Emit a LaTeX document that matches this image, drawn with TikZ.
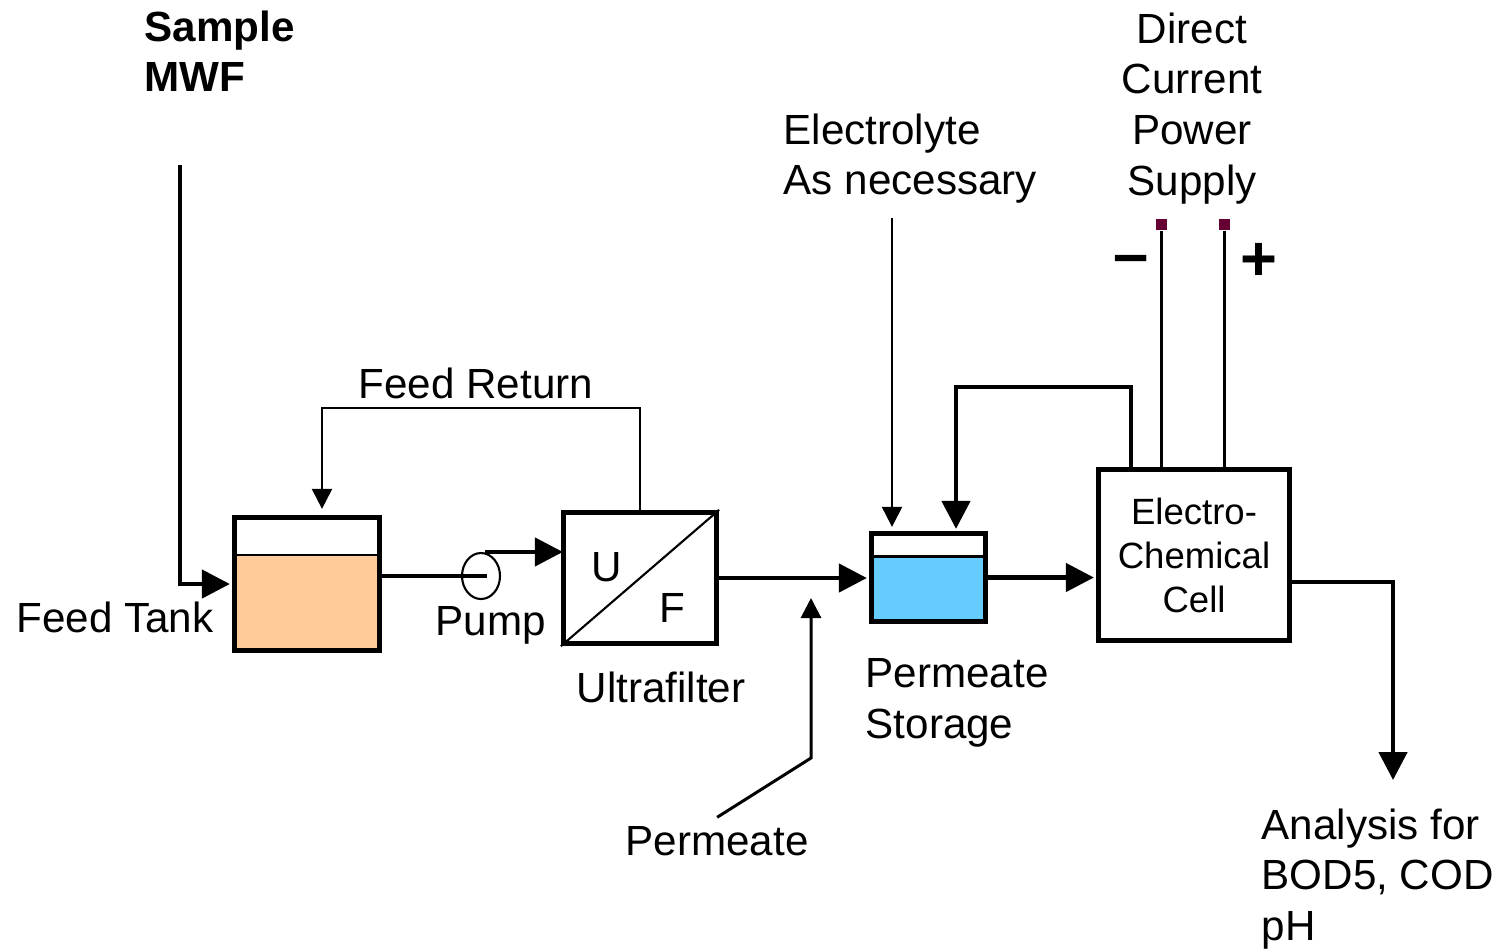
\documentclass[tikz,border=0pt]{standalone}
\usepackage{fontspec}
\setmainfont{Liberation Sans}
\usetikzlibrary{arrows.meta, positioning, shapes.geometric}
\definecolor{mFeed}{HTML}{FFCC99}
\definecolor{mPerm}{HTML}{66CCFF}
\definecolor{mTerm}{HTML}{660033}

\begin{document}
\begin{tikzpicture}[x=0.1mm, y=-0.1mm, inner sep=0pt,
    every node/.style={font=\fontsize{12}{14.4}\selectfont},
    box/.style={draw, line width=1.5pt},
    level/.style 2 args={path picture={
      \fill[#1] ([yshift=-#2]path picture bounding box.north west) rectangle (path picture bounding box.south east);
      \draw[line width=0.6pt] ([yshift=-#2]path picture bounding box.north west) -- ([yshift=-#2]path picture bounding box.north east);}},
    pipe/.style={line width=1.3pt},
    flow/.style={pipe, -{Triangle[length=2.8mm, width=2.8mm]}, shorten >=0.2mm},
    feed/.style={line width=0.6pt, -{Triangle[length=2mm, width=2mm]}},
    lead/.style={line width=0.85pt},
    terminal/.style={fill=mTerm, minimum size=1.1mm}]
  \useasboundingbox (0,0) rectangle (1501,951);

  % units
  \node[box, level={mFeed}{3.75mm}, minimum width=14.5mm, minimum height=13.3mm] (tank) at (307,584) {};
  \node[draw, ellipse, line width=0.6pt, minimum width=3.8mm, minimum height=4.6mm] (pump) at (481,576) {};
  \node[box, minimum width=15.3mm, minimum height=13.1mm] (uf) at (640,578) {};
  \draw[line width=0.6pt] (uf.south west) -- (uf.north east);
  \node (ufU) at (607,567) {U};
  \node (ufF) at (672,608) {F};
  \node[box, level={mPerm}{2.3mm}, minimum width=11.4mm, minimum height=8.8mm] (store) at (928.5,577.5) {};
  \node[box, minimum width=19.1mm, minimum height=17.1mm, align=center,
        font=\fontsize{10.4}{12.5}\selectfont] (cell) at (1194,555) {Electro-\\Chemical\\Cell};
  \node[terminal] (neg) at (1161,224.5) {};
  \node[terminal] (pos) at (1224.5,224.5) {};

  % labels
  \node[anchor=north west, align=left, font=\fontsize{12}{14.4}\selectfont\bfseries] (sample) at (144,10) {Sample\\MWF};
  \node[anchor=north west, align=left] (elec) at (783,113) {Electrolyte\\As necessary};
  \node[anchor=north, align=center] (dcps) at (1192,12) {Direct\\Current\\Power\\Supply};
  \node[anchor=base west] (retlbl) at (358,398) {Feed Return};
  \node[anchor=base east] (tanklbl) at (214,632) {Feed Tank};
  \node[anchor=base west] (pumplbl) at (435,635) {Pump};
  \node[anchor=base] (uflbl) at (661,702) {Ultrafilter};
  \node[anchor=north west, align=left] (storelbl) at (865,658) {Permeate\\Storage};
  \node[anchor=base west] (permlbl) at (625,855) {Permeate};
  \node[anchor=north west, align=left] (anlbl) at (1261,808) {Analysis for\\BOD5, COD\\pH};
  \node[font=\fontsize{18}{18}\selectfont\bfseries] (minus) at (1131,265) {–};
  \node[font=\fontsize{18}{18}\selectfont\bfseries] (plus) at (1259,262) {+};

  % lines
  \coordinate (feedin) at (180,165);
  \coordinate (pbend) at (811,758);
  \coordinate (elecin) at (892,218);
  \coordinate (anl) at (1393,782);
  \draw[flow] (feedin) |- (tank.west);
  \draw[feed, shorten >=0.6mm] (uf.north) -- ++(0,-102) -| ([xshift=1.5mm]tank.north);
  \draw[pipe] (tank.east |- pump) -- ([xshift=0.6mm]pump.center);
  \draw[flow] ([xshift=0.4mm]pump.north) -- ([xshift=0.4mm]pump.north -| uf.west);
  \draw[flow] (uf.east) -- (uf.east -| store.west);
  \draw[feed, line width=0.85pt] ([yshift=0.8mm]permlbl.north) -- (pbend) -- ([yshift=-2.05mm]pbend |- store.west);
  \draw[feed, shorten >=0.4mm] (elecin) -- (elecin |- store.north);
  \draw[flow] ([xshift=-6.3mm]cell.north) -- ++(0,-80) -| ([xshift=2.75mm]store.north);
  \draw[flow] (store.east) -- (store.east -| cell.west);
  \draw[flow] ([yshift=-2.7mm]cell.east) -| (anl);
  \draw[lead] (neg.south) -- (neg.south |- cell.north);
  \draw[lead] (pos.south) -- (pos.south |- cell.north);
\end{tikzpicture}
\end{document}
